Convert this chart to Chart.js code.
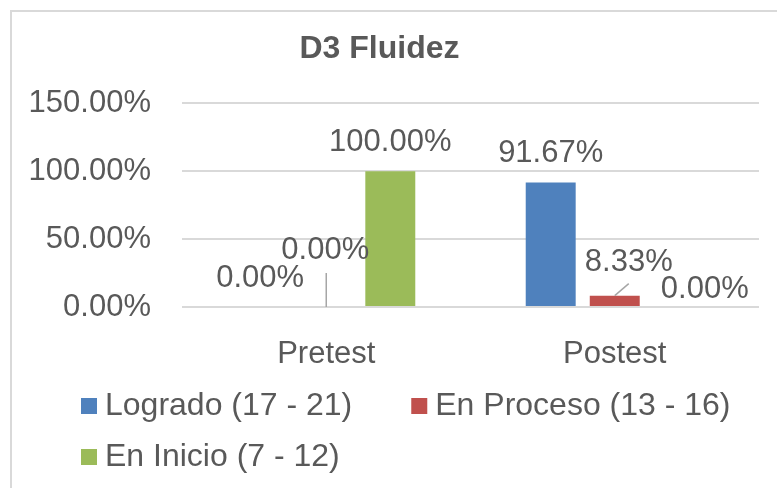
<!DOCTYPE html>
<html>
<head>
<meta charset="utf-8">
<script src="https://cdn.jsdelivr.net/npm/chart.js@4"></script>
<style>
  body { margin: 0; background: #fff; }
</style>
</head>
<body>
<canvas id="chart" width="777" height="488"></canvas>
<script>
const categories = ['Pretest', 'Postest'];
const seriesNames = ['Logrado (17 - 21)', 'En Proceso (13 - 16)', 'En Inicio (7 - 12)'];
const logrado = [0, 91.67];
const enProceso = [0, 8.33];
const enInicio = [100, 0];
const yTicks = [0, 50, 100, 150];

const colors = ['#4F81BD', '#C0504D', '#9BBB59'];
const textColor = '#595959';
const fontFamily = '"Liberation Sans", Arial, sans-serif';

// white background + light frame like the office chart
const frame = {
    id: 'frame',
    beforeDraw(chart) {
        const ctx = chart.ctx;
        ctx.save();
        ctx.fillStyle = '#fff';
        ctx.fillRect(0, 0, chart.width, chart.height);
        ctx.strokeStyle = '#D9D9D9';
        ctx.lineWidth = 2;
        ctx.strokeRect(11, 11, chart.width + 20, chart.height + 20);
        ctx.restore();
    }
};

// value labels above bars, some moved by hand with leader lines
const barLabels = {
    id: 'barLabels',
    afterDatasetsDraw(chart, args, opts) {
        const ctx = chart.ctx;
        ctx.save();
        ctx.font = opts.font;
        ctx.textAlign = 'center';
        ctx.textBaseline = 'middle';
        chart.data.datasets.forEach((ds, i) => {
            const meta = chart.getDatasetMeta(i);
            meta.data.forEach((bar, j) => {
                const off = opts.offsets[i][j];
                const lx = bar.x + off[0];
                const ly = bar.y - opts.lift + off[1];
                if (off[2]) {
                    ctx.strokeStyle = '#A6A6A6';
                    ctx.lineWidth = 1.5;
                    ctx.beginPath();
                    ctx.moveTo(bar.x, bar.y);
                    ctx.lineTo(lx + off[2][0], ly + off[2][1]);
                    ctx.stroke();
                }
                ctx.fillStyle = opts.color;
                ctx.fillText(ds.data[j].toFixed(2) + '%', lx, ly);
            });
        });
        ctx.restore();
    }
};

// legend rows starting at the same left edge
const bottomLegend = {
    id: 'bottomLegend',
    afterDraw(chart, args, opts) {
        const ctx = chart.ctx;
        ctx.save();
        ctx.font = opts.font;
        ctx.textBaseline = 'middle';
        let x = opts.left, y = opts.top;
        chart.data.datasets.forEach(ds => {
            const w = opts.box + opts.gap + ctx.measureText(ds.label).width;
            if (x > opts.left && x + w > chart.width - opts.right) {
                x = opts.left;
                y += opts.rowHeight;
            }
            ctx.fillStyle = ds.backgroundColor;
            ctx.fillRect(x, y - opts.box / 2, opts.box, opts.box);
            ctx.fillStyle = opts.color;
            ctx.fillText(ds.label, x + opts.box + opts.gap, y);
            x += w + opts.spacing;
        });
        ctx.restore();
    }
};

const seriesValues = [logrado, enProceso, enInicio];

new Chart(document.getElementById('chart'), {
    type: 'bar',
    data: {
        labels: categories,
        datasets: seriesNames.map((name, i) => ({
            label: name,
            data: seriesValues[i],
            backgroundColor: colors[i],
            borderWidth: 0,
            categoryPercentage: 0.666,
            barPercentage: 0.78
        }))
    },
    options: {
        responsive: false,
        animation: false,
        layout: { padding: { left: 0, right: 18, top: 0, bottom: 121 } },
        scales: {
            x: {
                grid: { display: false },
                border: { display: false },
                ticks: {
                    color: textColor,
                    padding: 21,
                    font: { family: fontFamily, size: 31 }
                },
                afterFit: scale => { scale.height = 60; }
            },
            y: {
                min: 0,
                max: 150,
                afterBuildTicks: scale => { scale.ticks = yTicks.map(v => ({ value: v })); },
                grid: { color: '#D9D9D9', lineWidth: 2, drawTicks: false },
                border: { display: false },
                ticks: {
                    color: textColor,
                    padding: 31,
                    font: { family: fontFamily, size: 31 },
                    callback: v => v.toFixed(2) + '%'
                },
                afterFit: scale => { scale.width = 182; }
            }
        },
        plugins: {
            legend: { display: false },
            tooltip: { enabled: false },
            title: {
                display: true,
                text: 'D3 Fluidez',
                color: textColor,
                font: { family: fontFamily, size: 32, weight: 'bold' },
                padding: { top: 30, bottom: 35 }
            },
            barLabels: {
                font: '31px ' + fontFamily,
                color: textColor,
                lift: 29,
                // [dx, dy, leader end relative to label]
                offsets: [
                    [[-2, 0], [0, 0]],
                    [[-1, -28, [1, 23]], [14, -4, [0, 21]]],
                    [[0, 0], [26, 11]]
                ]
            },
            bottomLegend: {
                font: '32px ' + fontFamily,
                color: textColor,
                left: 81,
                top: 406,
                box: 16,
                gap: 8,
                spacing: 59,
                rowHeight: 51,
                right: 10
            }
        }
    },
    plugins: [frame, barLabels, bottomLegend]
});
</script>
</body>
</html>
